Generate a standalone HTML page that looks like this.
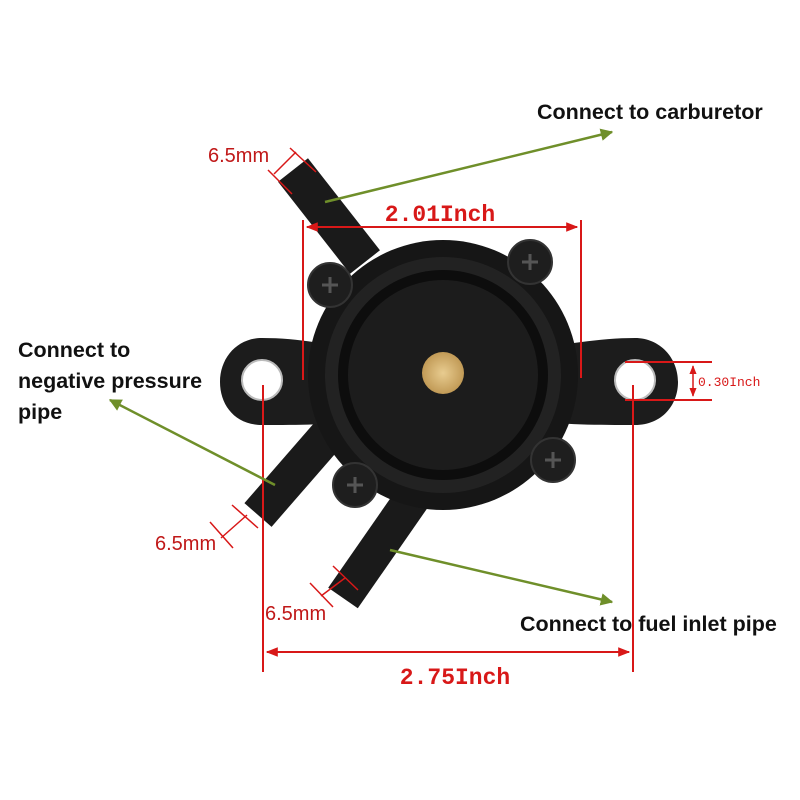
<!DOCTYPE html>
<html><head><style>
html,body{margin:0;padding:0;background:#fff;}
svg{display:block;}
.lbl{font-family:"Liberation Sans",sans-serif;font-weight:bold;font-size:21.5px;fill:#111;}
.red{font-family:"Liberation Mono",monospace;fill:#d81818;}
.mm{font-family:"Liberation Sans",sans-serif;font-size:20px;fill:#c01818;}
</style></head><body>
<svg width="800" height="800" viewBox="0 0 800 800">
<defs>
<marker id="ra" viewBox="0 0 10 10" refX="9" refY="5" markerWidth="6" markerHeight="6" orient="auto-start-reverse"><path d="M0,1 L10,5 L0,9z" fill="#d81818"/></marker>
<marker id="ga" viewBox="0 0 10 10" refX="9" refY="5" markerWidth="5" markerHeight="5" orient="auto"><path d="M0,0 L10,5 L0,10z" fill="#6f8f2a"/></marker>
<radialGradient id="brass"><stop offset="0" stop-color="#e8cc90"/><stop offset="1" stop-color="#c19a56"/></radialGradient>
</defs>
<rect width="800" height="800" fill="#fff"/>
<g stroke-linecap="butt">
<line x1="293" y1="170" x2="365" y2="262" stroke="#1a1a1a" stroke-width="38"/>
<line x1="258" y1="515" x2="345" y2="415" stroke="#1a1a1a" stroke-width="36"/>
<line x1="343" y1="598" x2="425" y2="480" stroke="#1a1a1a" stroke-width="36"/>
</g>
<path d="M262,338 C300,338 330,345 360,350 L360,420 C330,425 300,425 262,425 C235,425 220,405 220,382 C220,358 237,338 262,338Z" fill="#1c1c1c"/>
<path d="M635,338 C600,338 560,345 530,350 L530,420 C560,425 600,425 635,425 C662,425 678,405 678,382 C678,358 660,338 635,338Z" fill="#1c1c1c"/>
<circle cx="262" cy="380" r="20" fill="#fff" stroke="#bbb" stroke-width="2"/>
<circle cx="635" cy="380" r="20" fill="#fff" stroke="#bbb" stroke-width="2"/>
<circle cx="443" cy="375" r="135" fill="#161616"/>
<circle cx="443" cy="375" r="118" fill="#222"/>
<circle cx="443" cy="375" r="105" fill="#0d0d0d"/>
<circle cx="443" cy="375" r="95" fill="#1c1c1c"/>
<circle cx="443" cy="373" r="21" fill="url(#brass)"/>
<g fill="#1e1e1e" stroke="#333" stroke-width="2">
<circle cx="330" cy="285" r="22"/><circle cx="530" cy="262" r="22"/>
<circle cx="553" cy="460" r="22"/><circle cx="355" cy="485" r="22"/>
</g>
<g stroke="#555" stroke-width="3">
<path d="M322,285h16M330,277v16"/><path d="M522,262h16M530,254v16"/>
<path d="M545,460h16M553,452v16"/><path d="M347,485h16M355,477v16"/>
</g>
<g stroke="#d81818" stroke-width="2" fill="none">
<line x1="303" y1="220" x2="303" y2="380"/><line x1="581" y1="220" x2="581" y2="378"/>
<line x1="307" y1="227" x2="577" y2="227" marker-start="url(#ra)" marker-end="url(#ra)"/>
<line x1="263" y1="385" x2="263" y2="672"/><line x1="633" y1="385" x2="633" y2="672"/>
<line x1="267" y1="652" x2="629" y2="652" marker-start="url(#ra)" marker-end="url(#ra)"/>
<line x1="625" y1="362" x2="712" y2="362"/><line x1="625" y1="400" x2="712" y2="400"/>
<line x1="693" y1="366" x2="693" y2="396" stroke-width="1.5" marker-start="url(#ra)" marker-end="url(#ra)"/>
<g stroke-width="1.5">
<path d="M268,170 L292,194 M290,148 L316,172 M274,174 L296,152"/>
<path d="M210,522 L233,548 M232,505 L258,528 M221,538 L247,515"/>
<path d="M310,583 L333,607 M333,566 L358,590 M321,596 L345,578"/>
</g>
</g>
<text class="red" x="440" y="221" font-size="23" font-weight="bold" text-anchor="middle">2.01Inch</text>
<text class="red" x="455" y="684" font-size="23" font-weight="bold" text-anchor="middle">2.75Inch</text>
<text class="red" x="698" y="386" font-size="13">0.30Inch</text>
<text class="mm" x="208" y="162">6.5mm</text>
<text class="mm" x="155" y="550">6.5mm</text>
<text class="mm" x="265" y="620">6.5mm</text>
<g stroke="#6f8f2a" stroke-width="2.5" fill="none">
<line x1="325" y1="202" x2="612" y2="132" marker-end="url(#ga)"/>
<line x1="275" y1="485" x2="110" y2="400" marker-end="url(#ga)"/>
<line x1="390" y1="550" x2="612" y2="602" marker-end="url(#ga)"/>
</g>
<text class="lbl" x="537" y="119">Connect to carburetor</text>
<text class="lbl" x="18" y="357">Connect to</text>
<text class="lbl" x="18" y="388">negative pressure</text>
<text class="lbl" x="18" y="419">pipe</text>
<text class="lbl" x="520" y="631">Connect to fuel inlet pipe</text>
</svg>
</body></html>
